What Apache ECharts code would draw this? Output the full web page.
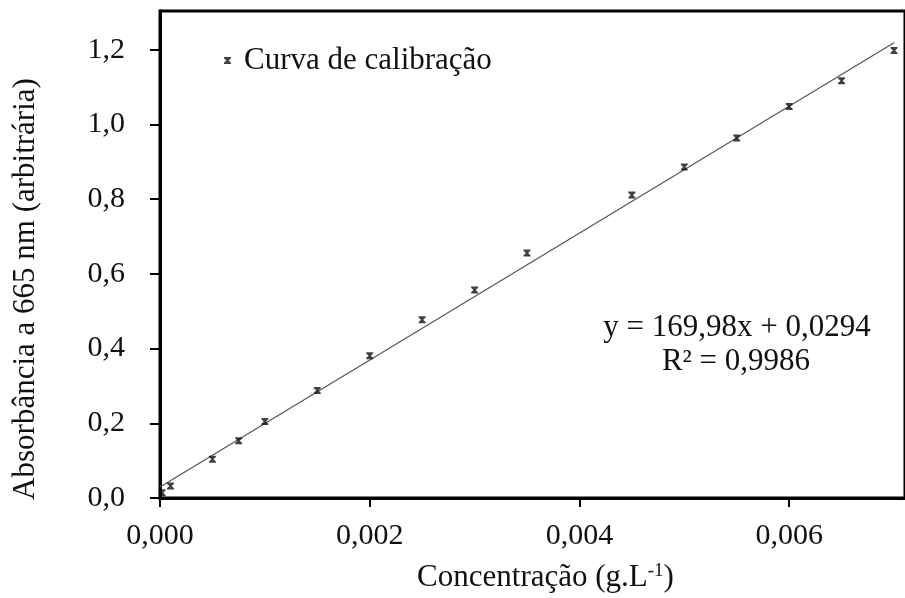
<!DOCTYPE html>
<html>
<head>
<meta charset="utf-8">
<script src="https://cdn.jsdelivr.net/npm/echarts@6/dist/echarts.min.js"></script>
<style>
  html, body { margin: 0; padding: 0; background: #fff; }
  #chart { width: 905px; height: 598px; }
</style>
</head>
<body>
<div id="chart"></div>
<script>
// Calibration standards: concentration (g/L) and measured absorbance at 665 nm
const concentration = [0.00002, 0.0001, 0.0005, 0.00075, 0.001, 0.0015, 0.002, 0.0025,
                       0.003, 0.0035, 0.0045, 0.005, 0.0055, 0.006, 0.0065, 0.007];
const absorbance = [0.014, 0.032, 0.104, 0.153, 0.205, 0.288, 0.381, 0.477,
                    0.557, 0.656, 0.811, 0.886, 0.964, 1.048, 1.117, 1.198];

// Linear fit reported on the chart
const fitSlope = 169.98;
const fitIntercept = 0.0294;
const fitR2 = 0.9986;
const fitRange = [0, 0.007];

// Tick positions
const xTicks = [0, 0.002, 0.004, 0.006];
const yTicks = [0, 0.2, 0.4, 0.6, 0.8, 1.0, 1.2];

const FONT = '"Liberation Serif", "Times New Roman", serif';
const comma = (v, d) => v.toFixed(d).replace('.', ',');

const points = concentration.map((c, i) => [c, absorbance[i]]);
const fitLine = fitRange.map(x => [x, fitSlope * x + fitIntercept]);

// small filled hourglass-style "x" marker
const xMark = 'path://M0,0L10,0L10,1.8L6.6,5L10,8.2L10,10L0,10L0,8.2L3.4,5L0,1.8Z';

const chart = echarts.init(document.getElementById('chart'));
chart.setOption({
  animation: false,
  backgroundColor: '#ffffff',
  grid: {
    left: 160, top: 11, width: 748, height: 489,
    show: true, borderColor: '#000', borderWidth: 3, backgroundColor: 'transparent'
  },
  legend: {
    left: 219, top: 40,
    data: [{ name: 'Curva de calibração', icon: xMark }],
    itemWidth: 7, itemHeight: 7,
    textStyle: { fontFamily: FONT, fontSize: 31, color: '#111', padding: [0, 0, 0, 8] }
  },
  xAxis: {
    type: 'value', min: 0, max: 0.007105,
    name: 'Concentração (g.L{sup|-1})',
    nameLocation: 'middle', nameGap: 64,
    nameTextStyle: {
      fontFamily: FONT, fontSize: 31, color: '#111', padding: [0, 0, 0, 26],
      rich: { sup: { fontFamily: FONT, fontSize: 19, color: '#111', verticalAlign: 'top', padding: [0, 0, 12, 0] } }
    },
    axisLine: { lineStyle: { color: '#000', width: 3 } },
    axisTick: { show: true, length: 9, inside: false, lineStyle: { color: '#000', width: 2 }, customValues: xTicks },
    axisLabel: { fontFamily: FONT, fontSize: 30, color: '#111', margin: 23, customValues: xTicks,
                 formatter: v => comma(v, 3) },
    splitLine: { show: false }
  },
  yAxis: {
    type: 'value', min: 0, max: 1.304,
    axisLine: { lineStyle: { color: '#000', width: 3 } },
    axisTick: { show: true, length: 10, inside: false, lineStyle: { color: '#000', width: 2 }, customValues: yTicks },
    axisLabel: { fontFamily: FONT, fontSize: 30, color: '#111', margin: 35, customValues: yTicks,
                 formatter: v => comma(v, 1) },
    splitLine: { show: false }
  },
  series: [
    {
      name: 'Curva de calibração',
      type: 'scatter',
      data: points,
      symbol: xMark,
      symbolSize: 7,
      itemStyle: { color: '#111' },
      z: 3
    },
    {
      name: 'fit',
      type: 'line',
      data: fitLine,
      showSymbol: false,
      symbol: 'none',
      lineStyle: { color: '#555', width: 1.2 },
      z: 2
    }
  ],
  graphic: [
    {
      // y-axis title
      type: 'text', x: 26, y: 289, rotation: Math.PI / 2,
      style: { text: 'Absorbância a 665 nm (arbitrária)',
               font: '31px ' + FONT, fill: '#111', align: 'center', verticalAlign: 'middle' }
    },
    {
      type: 'text', x: 737, y: 312,
      style: { text: 'y = ' + comma(fitSlope, 2) + 'x + ' + comma(fitIntercept, 4),
               font: '31px ' + FONT, fill: '#111', align: 'center', verticalAlign: 'top' }
    },
    {
      type: 'text', x: 736, y: 346,
      style: { text: 'R² = ' + comma(fitR2, 4),
               font: '31px ' + FONT, fill: '#111', align: 'center', verticalAlign: 'top' }
    }
  ]
});
</script>
</body>
</html>
